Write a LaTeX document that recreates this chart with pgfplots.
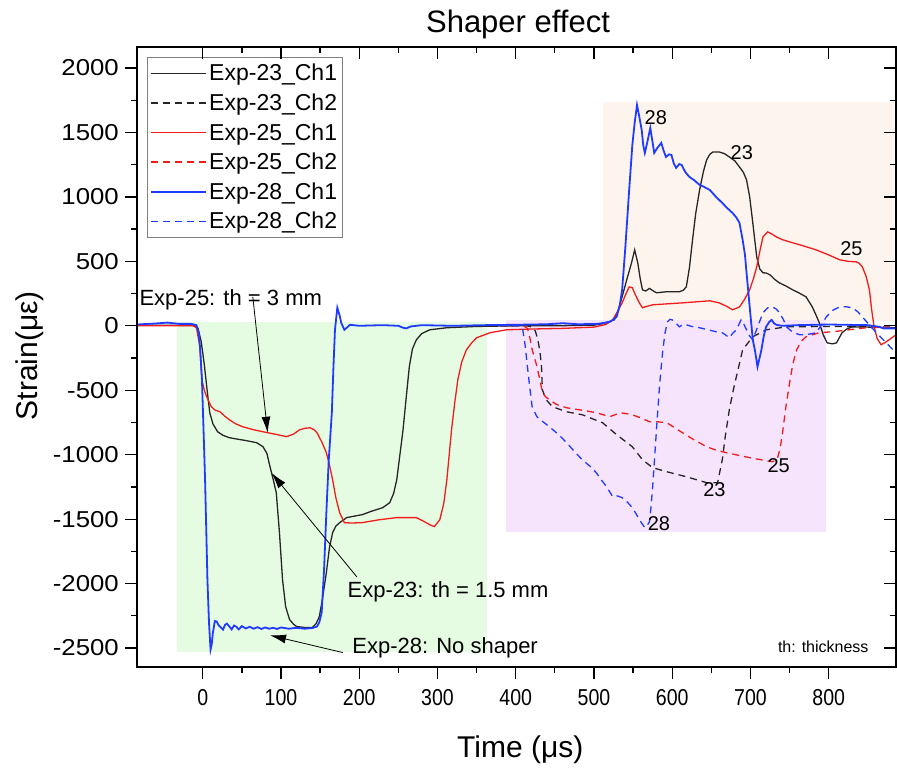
\documentclass[border=0pt]{standalone}
\usepackage{pgfplots}
\pgfplotsset{compat=1.18}
\usepackage{fontspec}
\setmainfont{Liberation Sans}
\usetikzlibrary{arrows.meta}
\definecolor{cblack}{HTML}{262626}
\definecolor{cred}{HTML}{F21C1C}
\definecolor{cblue}{HTML}{1F3BFF}
\definecolor{fgreen}{HTML}{E6FCE2}
\definecolor{forange}{HTML}{FDF4EE}
\definecolor{fpurple}{HTML}{F6E4FC}
\newcommand{\fs}[1]{\fontsize{#1}{#1}\selectfont}
\tikzset{
  s23a/.style={color=cblack, line width=1.3pt},
  s23b/.style={color=cblack, line width=1.3pt, dash pattern=on 7pt off 5pt},
  s25a/.style={color=cred, line width=1.3pt},
  s25b/.style={color=cred, line width=1.3pt, dash pattern=on 7pt off 5pt},
  s28a/.style={color=cblue, line width=1.8pt},
  s28b/.style={color=cblue, line width=1.3pt, dash pattern=on 7pt off 5pt},
}
\begin{document}
\begin{tikzpicture}
\path[use as bounding box] (-137pt,-102pt) rectangle (760pt,667pt);
\begin{axis}[
  at={(0pt,0pt)}, anchor=south west,
  width=759pt, height=620pt, scale only axis,
  xmin=-84, xmax=886, ymin=-2647, ymax=2163,
  xtick={0,100,...,800}, ytick={-2500,-2000,...,2000},
  minor x tick num=1, minor y tick num=1,
  xtick pos=left, ytick pos=left, tick align=outside,
  major tick length=12pt, minor tick length=6pt,
  every tick/.style={line width=1.3pt, black},
  axis line style={line width=1.6pt},
  scaled ticks=false,
  /pgf/number format/assume math mode=true,
  /pgf/number format/1000 sep={},
  ticklabel style={font=\fs{23}},
  xticklabel style={xscale=0.85, yshift=-7pt},
  yticklabel style={xscale=1.12, xshift=-2pt},
  title={Shaper effect},
  title style={at={(rel axis cs:0.502,1.026)}, anchor=center, font=\fs{31}},
  xlabel={Time (μs)},
  xlabel style={at={(rel axis cs:0.505,-0.134)}, anchor=center, font=\fs{30}},
  ylabel={Strain(με)},
  ylabel style={at={(rel axis cs:-0.141,0.502)}, anchor=center, font=\fs{30}},
  legend cell align=left,
  legend style={at={(rel axis cs:0.0132,0.984)}, anchor=north west,
    draw=gray, line width=0.8pt, fill=white, font=\fs{23},
    row sep=7.4pt, inner xsep=3pt, inner ysep=5pt},
  legend image code/.code={\draw[#1] (0pt,0pt) -- (55pt,0pt);},
]
% shaded regions
\addplot[fill=fgreen, draw=none, forget plot] coordinates {(-33,-2528) (363,-2528) (363,32) (-33,32)} -- cycle;
\addplot[fill=forange, draw=none, forget plot] coordinates {(511,40) (883,40) (883,1739) (511,1739)} -- cycle;
\addplot[fill=fpurple, draw=none, forget plot] coordinates {(388,-1597) (797,-1597) (797,42) (388,42)} -- cycle;

\addlegendimage{s23a}\addlegendentry{Exp-23\_Ch1}
\addlegendimage{s23b}\addlegendentry{Exp-23\_Ch2}
\addlegendimage{s25a}\addlegendentry{Exp-25\_Ch1}
\addlegendimage{s25b}\addlegendentry{Exp-25\_Ch2}
\addlegendimage{s28a}\addlegendentry{Exp-28\_Ch1}
\addlegendimage{s28b}\addlegendentry{Exp-28\_Ch2}

% Exp-23 Ch1
\addplot[s23a, forget plot] coordinates {
(-84,5) (-10,3) (-6,-20) (-2,-120) (2,-300) (6,-520) (9,-674) (13,-760) (19,-822) (26,-850) (34,-868) (45,-880) (55,-890) (69,-907) (77,-938) (82,-990) (86,-1093) (90,-1190) (94,-1295) (98,-1600) (102,-1969) (106,-2180) (111,-2279) (116,-2315) (120,-2333) (130,-2340) (140,-2340) (145,-2310) (149,-2256) (153,-2120) (158,-1915) (162,-1720) (166,-1605) (170,-1555) (175,-1527) (184,-1488) (195,-1475) (204,-1465) (215,-1440) (230,-1411) (239,-1372) (244,-1300) (248,-1194) (252,-1000) (256,-806) (260,-560) (264,-318) (268,-180) (273,-109) (280,-60) (290,-31) (312,-15) (350,-5) (400,0) (450,0) (500,5) (510,15) (518,30) (526,46) (531,120) (536,225) (542,360) (548,488) (552,589) (556,488) (559,370) (562,279) (566,270) (571,290) (576,270) (580,256) (592,264) (609,264) (614,275) (618,302) (622,450) (626,667) (630,870) (635,1054) (640,1200) (644,1287) (648,1330) (652,1349) (660,1349) (667,1335) (673,1310) (680,1280) (686,1232) (691,1190) (695,1132) (699,1000) (703,798) (706,640) (708,535) (712,440) (716,411) (720,410) (725,395) (731,360) (737,333) (745,310) (754,279) (762,255) (771,225) (779,147) (784,80) (788,23) (793,-70) (798,-132) (805,-140) (810,-132) (817,-54) (823,-25) (830,-8) (850,-10) (886,-15)
};
% Exp-23 Ch2
\addplot[s23b, forget plot] coordinates {
(380,0) (415,0) (421,-10) (425,-40) (428,-100) (431,-200) (433,-318) (434,-496) (439,-574) (447,-628) (465,-667) (485,-690) (511,-752) (529,-845) (549,-938) (562,-1039) (575,-1101) (593,-1132) (618,-1171) (644,-1217) (658,-1217) (664,-1039) (668,-850) (673,-651) (678,-500) (682,-395) (690,-186) (703,-85) (720,-31) (746,-8) (800,-5) (886,-10)
};
% Exp-25 Ch1
\addplot[s25a, forget plot] coordinates {
(-84,0) (-12,0) (-8,-15) (-4,-150) (-1,-419) (2,-500) (5,-550) (11,-628) (16,-655) (22,-667) (28,-700) (34,-729) (42,-760) (51,-783) (64,-805) (77,-822) (92,-840) (107,-860) (116,-840) (124,-806) (131,-795) (137,-791) (142,-805) (146,-829) (152,-900) (158,-984) (162,-1080) (166,-1194) (170,-1330) (175,-1450) (181,-1527) (190,-1530) (204,-1527) (225,-1505) (248,-1488) (273,-1488) (282,-1515) (290,-1543) (296,-1558) (303,-1504) (308,-1380) (312,-1194) (315,-1000) (318,-806) (322,-600) (326,-419) (331,-280) (337,-186) (344,-130) (350,-93) (367,-54) (388,-31) (420,-25) (460,-20) (500,-10) (515,10) (524,46) (530,110) (536,178) (541,250) (545,302) (549,295) (553,240) (558,178) (562,140) (567,150) (575,163) (613,178) (648,194) (660,178) (670,150) (677,124) (686,147) (692,200) (699,279) (704,370) (708,457) (712,580) (716,690) (722,729) (728,710) (733,690) (740,670) (750,651) (765,625) (784,589) (800,550) (814,512) (825,500) (835,496) (839,485) (843,457) (848,380) (852,279) (855,120) (858,-8) (862,-100) (867,-147) (872,-130) (877,-109) (886,-70)
};
% Exp-25 Ch2
\addplot[s25b, forget plot] coordinates {
(380,0) (410,0) (415,-20) (418,-90) (421,-186) (426,-290) (430,-395) (434,-512) (438,-550) (443,-574) (452,-610) (465,-636) (485,-655) (503,-674) (520,-705) (527,-690) (533,-674) (540,-680) (549,-690) (560,-715) (571,-744) (582,-745) (593,-752) (603,-790) (613,-829) (628,-885) (644,-938) (656,-965) (669,-984) (685,-1005) (699,-1023) (714,-1040) (728,-1054) (734,-1039) (738,-950) (741,-829) (745,-640) (750,-442) (754,-300) (759,-186) (765,-120) (771,-85) (788,-54) (805,-46) (848,-15) (886,-10)
};
% Exp-28 Ch1
\addplot[s28a, forget plot] coordinates {
(-84,10) (-60,18) (-45,25) (-30,15) (-15,15) (-8,5) (-5,-60) (-3,-200) (-1,-419) (1,-800) (3,-1194) (4.5,-1580) (6,-1969) (8,-2300) (10,-2512) (11.5,-2470) (13,-2380) (15.5,-2290) (18,-2295) (20,-2320) (22,-2333) (24,-2345) (26,-2357) (28.5,-2320) (31,-2310) (34,-2333) (37,-2355) (40,-2325) (43,-2335) (46,-2355) (50,-2330) (55,-2348) (60,-2335) (65,-2350) (70,-2338) (75,-2352) (80,-2340) (85,-2350) (90,-2343) (95,-2352) (100,-2340) (110,-2350) (120,-2343) (130,-2350) (140,-2345) (146,-2333) (149,-2300) (152,-2225) (155,-1900) (158,-1450) (161,-1050) (165,-674) (167,-330) (169,-31) (172,140) (175,80) (177,23) (181,-31) (185,-10) (188,8) (200,0) (230,5) (250,0) (256,-15) (260,-20) (266,-5) (280,5) (320,0) (360,5) (400,8) (440,12) (460,20) (480,12) (505,15) (520,30) (525,50) (529,70) (533,160) (536,279) (540,600) (545,1054) (549,1400) (552,1574) (555,1713) (558,1620) (561,1519) (563,1400) (565,1341) (568,1420) (572,1535) (575,1420) (577,1341) (581,1380) (586,1419) (589,1360) (592,1310) (596,1330) (599,1326) (602,1260) (605,1225) (609,1255) (612,1248) (617,1190) (622,1155) (628,1130) (635,1093) (640,1080) (648,1054) (656,1000) (664,953) (670,915) (677,876) (682,840) (686,798) (690,667) (693,550) (695,411) (697,280) (699,147) (701,20) (703,-109) (706,-200) (709,-318) (712,-240) (714,-186) (717,-80) (720,-8) (724,30) (727,46) (730,20) (733,8) (740,0) (760,5) (800,10) (850,5) (865,-8) (870,-20) (886,-20)
};
% Exp-28 Ch2
\addplot[s28b, forget plot] coordinates {
(380,0) (405,0) (409,-30) (412,-150) (415,-318) (418,-480) (421,-628) (427,-705) (435,-745) (443,-783) (455,-845) (465,-907) (475,-975) (485,-1039) (495,-1090) (503,-1140) (510,-1200) (516,-1248) (524,-1326) (530,-1320) (536,-1333) (543,-1370) (549,-1411) (554,-1460) (558,-1504) (562,-1540) (565,-1566) (568,-1550) (571,-1519) (573,-1400) (575,-1248) (578,-980) (581,-705) (584,-450) (588,-186) (591,-50) (594,31) (597,50) (600,46) (605,20) (609,-8) (614,10) (618,8) (625,-5) (635,-15) (645,-30) (656,-46) (664,-54) (668,-70) (673,-93) (677,-60) (682,-31) (688,46) (691,20) (695,-31) (699,-80) (703,-109) (709,-10) (716,101) (722,140) (728,147) (733,130) (737,101) (742,50) (746,-8) (754,-50) (763,-70) (775,-65) (784,-54) (790,0) (797,70) (805,120) (814,147) (822,148) (830,140) (837,110) (843,70) (850,20) (861,-54) (870,-110) (878,-160) (886,-209)
};

% annotations
\node[anchor=west, inner sep=0pt, font=\fs{22}] at (axis cs:-81,200) {Exp-25: th = 3 mm};
\draw[line width=0.8pt, -{Latex[length=16pt,width=9pt]}] (axis cs:64,224) -- (axis cs:83,-830);
\node[anchor=west, inner sep=0pt, font=\fs{22}] at (axis cs:185,-2065) {Exp-23: th = 1.5 mm};
\draw[line width=0.8pt, -{Latex[length=16pt,width=9pt]}] (axis cs:197,-1948) -- (axis cs:88,-1142);
\node[anchor=west, inner sep=0pt, font=\fs{22}] at (axis cs:191,-2500) {Exp-28: No shaper};
\draw[line width=0.8pt, -{Latex[length=16pt,width=9pt]}] (axis cs:179,-2535) -- (axis cs:86,-2401);
\node[anchor=west, inner sep=0pt, font=\fs{16}] at (axis cs:735,-2490) {th: thickness};
\node[font=\fs{20}] at (axis cs:579,1613) {28};
\node[font=\fs{20}] at (axis cs:689,1340) {23};
\node[font=\fs{20}] at (axis cs:829,595) {25};
\node[font=\fs{20}] at (axis cs:583,-1538) {28};
\node[font=\fs{20}] at (axis cs:654,-1274) {23};
\node[font=\fs{20}] at (axis cs:736,-1087) {25};
\end{axis}
\begin{axis}[
  at={(0pt,0pt)}, anchor=south west,
  width=759pt, height=620pt, scale only axis,
  xmin=-84, xmax=886, ymin=-2647, ymax=2163,
  xtick={0,100,...,800}, ytick={-2500,-2000,...,2000},
  minor x tick num=1, minor y tick num=1,
  xtick pos=right, ytick pos=right, tick align=inside,
  major tick length=12pt, minor tick length=6pt,
  every tick/.style={line width=1.3pt, black},
  axis line style={line width=1.6pt},
  xticklabels={}, yticklabels={},
]
\addplot[draw=none] coordinates {(0,0)};
\end{axis}
\end{tikzpicture}
\end{document}
